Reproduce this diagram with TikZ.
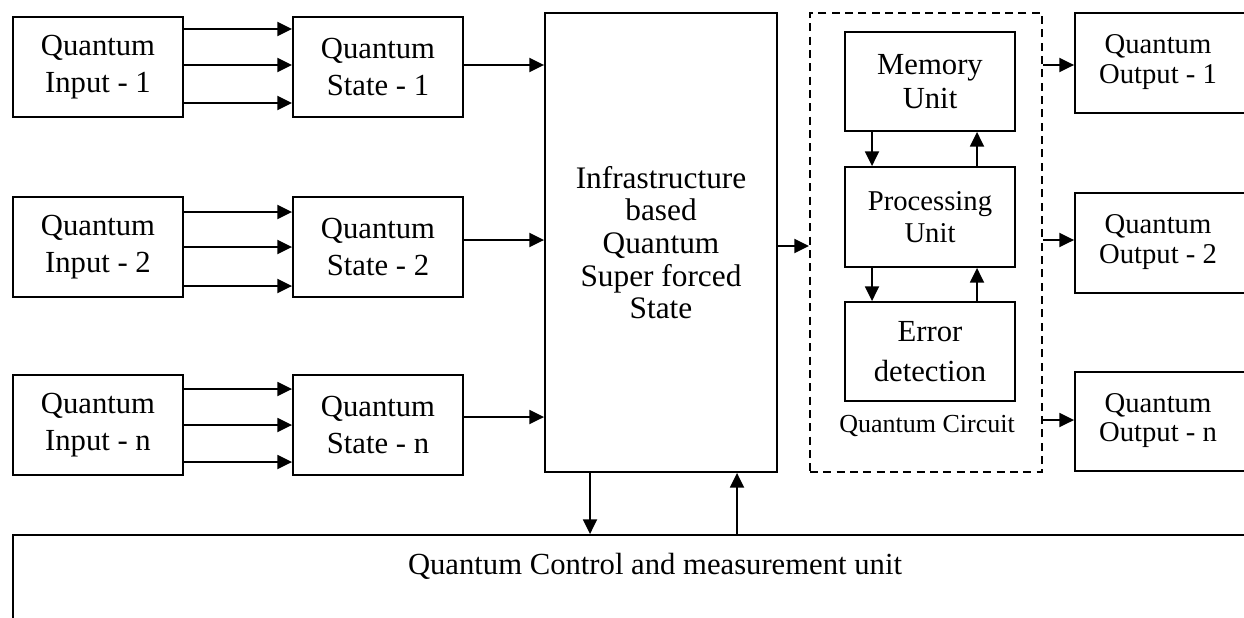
\documentclass[tikz,border=0pt]{standalone}
\usepackage{fontspec}
\setmainfont{Liberation Serif}
\usetikzlibrary{arrows.meta}
\begin{document}
\begin{tikzpicture}[x=0.75pt,y=-0.75pt,
  box/.style={draw, line width=1.4pt, inner sep=0pt, align=center},
  sz/.style 2 args={minimum width=#1*0.75pt, minimum height=#2*0.75pt},
  arr/.style={line width=1.4pt, -{Triangle[length=11pt,width=10.5pt]}},
  ftxt/.style={font=\fontsize{23pt}{27.5pt}\selectfont},
  fbig/.style={font=\fontsize{23.5pt}{24.5pt}\selectfont},
  fout/.style={font=\fontsize{21.5pt}{22pt}\selectfont},
  txt/.style={inner sep=0pt, align=center}
]
\useasboundingbox (0,0) rectangle (1244,617);
\clip (0,0) rectangle (1244,617);

% inputs
\node[box, sz={170}{100}, ftxt] (in1) at (98,67)  {Quantum\\Input - 1};
\node[box, sz={170}{100}, ftxt] (in2) at (98,247) {Quantum\\Input - 2};
\node[box, sz={170}{100}, ftxt] (inn) at (98,425) {Quantum\\Input - n};

% states
\node[box, sz={170}{100}, ftxt] (st1) at (378,67)  {Quantum\\State - 1};
\node[box, sz={170}{100}, ftxt] (st2) at (378,247) {Quantum\\State - 2};
\node[box, sz={170}{100}, ftxt] (stn) at (378,425) {Quantum\\State - n};

% superposition block
\node[box, sz={232}{459}, fbig] (big) at (661,242.5)
  {Infrastructure\\based\\Quantum\\Super forced\\State};

% quantum circuit
\node[draw, line width=1.6pt, dash pattern=on 6pt off 4pt, sz={232}{459}] (circ) at (926,242.5) {};
\node[box, sz={170}{99}, font=\fontsize{23pt}{26pt}\selectfont] (mem) at (930,81.5) {Memory\\Unit};
\node[box, sz={170}{100}, font=\fontsize{21.5pt}{24pt}\selectfont] (proc) at (930,217) {Processing\\Unit};
\node[box, sz={170}{99}, font=\fontsize{23pt}{30pt}\selectfont] (err) at (930,351.5) {Error\\detection};
\node[txt, font=\fontsize{19.5pt}{22pt}\selectfont] (circlbl) at (927,426) {Quantum Circuit};

% outputs
\node[box, sz={185}{100}] (o1) at (1167.5,63) {};
\node[box, sz={185}{100}] (o2) at (1167.5,243) {};
\node[box, sz={185}{99}] (on) at (1167.5,421.5) {};
\node[txt, fout] (o1t) at (1158,62)    {Quantum\\Output - 1};
\node[txt, fout] (o2t) at (1158,242)   {Quantum\\Output - 2};
\node[txt, fout] (ont) at (1158,420.5) {Quantum\\Output - n};

% control and measurement unit
\node[box, sz={1287}{165}] (ctrl) at (656.5,617.5) {};
\node[txt, font=\fontsize{23pt}{27pt}\selectfont] (ctrlt) at (655,566) {Quantum Control and measurement unit};

% input -> state links
\foreach \yy in {29,65,103}  \draw[arr] (in1.east |- 0,\yy) -- (st1.west |- 0,\yy);
\foreach \yy in {212,247,286} \draw[arr] (in2.east |- 0,\yy) -- (st2.west |- 0,\yy);
\foreach \yy in {389,425,462} \draw[arr] (inn.east |- 0,\yy) -- (stn.west |- 0,\yy);

% state -> superposition block
\draw[arr] (st1.east |- 0,65)  -- (big.west |- 0,65);
\draw[arr] (st2.east |- 0,240) -- (big.west |- 0,240);
\draw[arr] (stn.east |- 0,417) -- (big.west |- 0,417);

% block -> circuit
\draw[arr] (big.east |- 0,246) -- (circ.west |- 0,246);

% inside the circuit
\draw[arr] (mem.south -| 872,0) -- (proc.north -| 872,0);
\draw[arr] (proc.north -| 977,0) -- (mem.south -| 977,0);
\draw[arr] (proc.south -| 872,0) -- (err.north -| 872,0);
\draw[arr] (err.north -| 977,0) -- (proc.south -| 977,0);

% circuit -> outputs
\draw[arr] (circ.east |- 0,65)  -- (o1.west |- 0,65);
\draw[arr] (circ.east |- 0,240) -- (o2.west |- 0,240);
\draw[arr] (circ.east |- 0,420) -- (on.west |- 0,420);

% block <-> control unit
\draw[arr] (big.south -| 590,0) -- (ctrl.north -| 590,0);
\draw[arr] (ctrl.north -| 737,0) -- (big.south -| 737,0);
\end{tikzpicture}
\end{document}
